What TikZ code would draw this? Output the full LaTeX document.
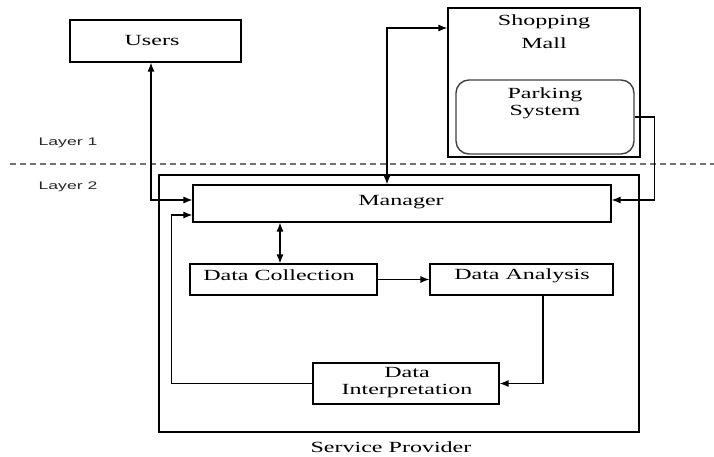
\documentclass[tikz,border=0pt]{standalone}
\usepackage{fontspec}
\setmainfont{Liberation Serif}[FakeStretch=1.55]
\newfontfamily\layerfont{Liberation Sans}[FakeStretch=1.6]
\usetikzlibrary{arrows.meta,calc}
\tikzset{
  box/.style={draw, line width=1.1pt, inner sep=0pt},
  roundbox/.style={draw=black!75, line width=1.4pt, rounded corners=13pt, inner sep=0pt},
  lbl/.style={font=\fontsize{15.5}{17}\selectfont, align=center, inner sep=0pt},
  layerlbl/.style={font=\layerfont\fontsize{11}{12}\selectfont, text=black!85, inner sep=0pt},
  tip/.tip={Latex[length=9pt,width=7pt]},
  conn/.style={line width=1.2pt, -tip},
  biconn/.style={line width=1.2pt, tip-tip}
}
\begin{document}
\begin{tikzpicture}[x=1pt,y=-1pt]
\useasboundingbox (0,0) rectangle (714,457);

% layer boundary
\draw[black!55, line width=1.2pt, dash pattern=on 6pt off 4pt] (10,164) -- (714,164);
\node[layerlbl] (l1) at (68,143) {Layer 1};
\node[layerlbl] (l2) at (68,187) {Layer 2};

% layer 1
\node[box, minimum width=171pt, minimum height=42pt] (users) at (155.5,41) {};
\node[lbl] (userst) at (152,41) {Users};

\node[box, minimum width=192pt, minimum height=149pt] (mall) at (544,82.5) {};
\node[lbl, font=\fontsize{15.5}{23}\selectfont] (mallt) at (544,31.5) {Shopping\\Mall};
\node[roundbox, minimum width=178pt, minimum height=74pt] (park) at (545,117) {};
\node[lbl] (parkt) at (545,103.5) {Parking\\System};

% layer 2: service provider
\node[box, minimum width=480pt, minimum height=257pt] (sp) at (399,303.5) {};
\node[lbl] (spt) at (391,447) {Service Provider};

\node[box, minimum width=418pt, minimum height=37pt] (mgr) at (402,203.5) {};
\node[lbl] (mgrt) at (401,202) {Manager};

\node[box, minimum width=187pt, minimum height=31pt] (coll) at (283.5,279.5) {};
\node[lbl] (collt) at (279,275.5) {Data Collection};

\node[box, minimum width=183pt, minimum height=31pt] (ana) at (521.5,279.5) {};
\node[lbl] (anat) at (522,275.5) {Data Analysis};

\node[box, minimum width=186pt, minimum height=41pt] (interp) at (406,383.5) {};
\node[lbl] (interpt) at (407,383) {Data\\Interpretation};

% connectors
\draw[biconn] ([xshift=-4.5pt]users.south) |- ([yshift=3.5pt]mgr.west);
\draw[conn] (interp.west) -- ++(-141,0) |- ([yshift=-11.5pt]mgr.west);
\draw[conn] ([xshift=21.5pt]ana.south) |- (interp.east);
\draw[conn] (coll.east) -- (ana.west);
\draw[biconn] ([xshift=-3.5pt]coll.north) -- ([xshift=-3.5pt]coll.north |- mgr.south);
\draw[biconn] ([xshift=-15pt]mgr.north) |- ([yshift=54.5pt]mall.west);
\draw[conn] (park.east) -- ++(20,0) |- ([yshift=3.5pt]mgr.east);
\end{tikzpicture}
\end{document}
